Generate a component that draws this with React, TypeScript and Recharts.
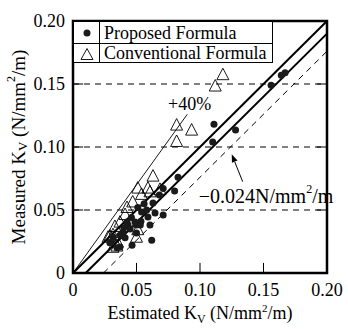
import {
  ScatterChart,
  Scatter,
  XAxis,
  YAxis,
  CartesianGrid,
  ReferenceLine,
  ReferenceArea,
  ReferenceDot,
} from 'recharts';

const FONT = '"Liberation Serif", "Times New Roman", serif';

const xTicks = [0, 0.05, 0.1, 0.15, 0.2];
const yTicks = [0, 0.05, 0.1, 0.15, 0.2];
const innerTicks = [0.05, 0.1, 0.15];

// Proposed formula (filled circles): [estimated, measured]
const proposedX = [
  0.167, 0.164, 0.156, 0.128, 0.111, 0.110, 0.0827, 0.080, 0.071, 0.068,
  0.063, 0.051, 0.054, 0.058, 0.0646, 0.071, 0.059, 0.0535, 0.0488, 0.0425,
  0.0433, 0.050, 0.0606, 0.0394, 0.037, 0.0315, 0.041, 0.050, 0.0465, 0.037,
  0.0346, 0.062, 0.053, 0.045, 0.040, 0.046, 0.056, 0.029,
];
const proposedY = [
  0.159, 0.157, 0.149, 0.1135, 0.118, 0.104, 0.076, 0.065, 0.067, 0.062,
  0.0556, 0.052, 0.0484, 0.050, 0.0476, 0.046, 0.0444, 0.041, 0.0405, 0.0405,
  0.038, 0.038, 0.038, 0.0325, 0.030, 0.0286, 0.028, 0.0317, 0.022, 0.0206,
  0.020, 0.026, 0.038, 0.035, 0.036, 0.044, 0.055, 0.024,
];

// Conventional formula (open triangles)
const conventionalX = [
  0.118, 0.112, 0.0816, 0.0934, 0.0816, 0.063, 0.059, 0.051, 0.0685, 0.0606,
  0.054, 0.047, 0.0425, 0.041, 0.037, 0.033, 0.0315, 0.0276, 0.0346, 0.0315,
  0.050, 0.051, 0.035, 0.029,
];
const conventionalY = [
  0.157, 0.148, 0.117, 0.113, 0.104, 0.0765, 0.067, 0.067, 0.066, 0.064,
  0.062, 0.056, 0.0516, 0.046, 0.040, 0.0365, 0.030, 0.028, 0.021, 0.020,
  0.028, 0.034, 0.024, 0.029,
];

const proposed = proposedX.map((x, i) => ({ x, y: proposedY[i] }));
const conventional = conventionalX.map((x, i) => ({ x, y: conventionalY[i] }));

const TL = 0.008; // inward tick length in data units

const Dot = (p: any) => <circle cx={p.cx} cy={p.cy} r={3.5} fill="#1a1a1a" />;

const Tri = (p: any) => (
  <polygon
    points={`${p.cx},${p.cy - 7} ${p.cx - 6},${p.cy + 4.5} ${p.cx + 6},${p.cy + 4.5}`}
    fill="none"
    stroke="#000"
    strokeWidth={0.9}
  />
);

const fmt = (v: number) => (v === 0 ? '0' : v.toFixed(2));

const XTick = ({ x, y, payload }: any) => (
  <text x={x} y={y + 15} textAnchor="middle" fontFamily={FONT} fontSize={18} fill="#000">
    {fmt(payload.value)}
  </text>
);

const YTick = ({ x, y, payload }: any) => (
  <text x={x} y={y + 6} textAnchor="end" fontFamily={FONT} fontSize={18} fill="#000">
    {fmt(payload.value)}
  </text>
);

const XLabel = ({ viewBox }: any) => (
  <text x={viewBox.x + viewBox.width / 2} y={319} textAnchor="middle" fontFamily={FONT} fontSize={18} fill="#000">
    Estimated K<tspan fontSize={12} dy={4}>V</tspan>
    <tspan dy={-4}> (N/mm</tspan>
    <tspan fontSize={11} dy={-7}>2</tspan>
    <tspan dy={7}>/m)</tspan>
  </text>
);

const YLabel = ({ viewBox }: any) => {
  const cx = 18;
  const cy = viewBox.y + viewBox.height / 2;
  return (
    <text x={cx} y={cy} transform={`rotate(-90 ${cx} ${cy})`} textAnchor="middle" dominantBaseline="central" fontFamily={FONT} fontSize={19} fill="#000">
      Measured K<tspan fontSize={13} dy={4}>V</tspan>
      <tspan dy={-4}> (N/mm</tspan>
      <tspan fontSize={12} dy={-7}>2</tspan>
      <tspan dy={7}>/m)</tspan>
    </text>
  );
};

const Arrow = (p: any) => {
  const { x1, y1, x2, y2 } = p;
  const a = Math.atan2(y2 - y1, x2 - x1);
  const L = 8;
  const w = 3;
  const bx = x2 - L * Math.cos(a);
  const by = y2 - L * Math.sin(a);
  const nx = -Math.sin(a) * w;
  const ny = Math.cos(a) * w;
  return (
    <g>
      <line x1={x1} y1={y1} x2={bx} y2={by} stroke="#000" strokeWidth={1} />
      <polygon points={`${x2},${y2} ${bx + nx},${by + ny} ${bx - nx},${by - ny}`} fill="#000" />
    </g>
  );
};

const Note = (text: any, size: number) => (p: any) => (
  <text x={p.cx} y={p.cy} dominantBaseline="central" textAnchor="start" fontFamily={FONT} fontSize={size} fill="#000">
    {text}
  </text>
);

export default function App() {
  return (
    <div style={{ position: 'absolute', left: 0, top: 0, width: 348, height: 329, background: '#fff' }}>
      <ScatterChart width={348} height={329} margin={{ top: 21, right: 21, bottom: 16, left: 13 }}>
        <CartesianGrid horizontal vertical={false} stroke="#000" strokeDasharray="6 5" strokeWidth={1} />
        <XAxis
          type="number"
          dataKey="x"
          domain={[0, 0.2]}
          ticks={xTicks}
          tick={<XTick />}
          axisLine={false}
          tickLine={false}
          height={40}
          allowDataOverflow
          label={{ content: <XLabel /> }}
        />
        <YAxis
          type="number"
          dataKey="y"
          domain={[0, 0.2]}
          ticks={yTicks}
          tick={<YTick />}
          axisLine={false}
          tickLine={false}
          width={60}
          allowDataOverflow
          label={{ content: <YLabel /> }}
        />
        <ReferenceLine segment={[{ x: 0, y: 0 }, { x: 0.09, y: 0.126 }]} stroke="#000" strokeWidth={0.9} />
        <ReferenceLine segment={[{ x: 0, y: 0 }, { x: 0.2, y: 0.2 }]} stroke="#000" strokeWidth={2} />
        <ReferenceLine segment={[{ x: 0.01, y: 0 }, { x: 0.2, y: 0.19 }]} stroke="#000" strokeWidth={2} />
        <ReferenceLine segment={[{ x: 0.024, y: 0 }, { x: 0.2, y: 0.176 }]} stroke="#000" strokeWidth={1} strokeDasharray="6 5" />
        {innerTicks.map((v) => (
          <ReferenceLine key={'b' + v} segment={[{ x: v, y: 0 }, { x: v, y: TL }]} stroke="#000" strokeWidth={1} />
        ))}
        {innerTicks.map((v) => (
          <ReferenceLine key={'t' + v} segment={[{ x: v, y: 0.2 }, { x: v, y: 0.2 - TL }]} stroke="#000" strokeWidth={1} />
        ))}
        {innerTicks.map((v) => (
          <ReferenceLine key={'l' + v} segment={[{ x: 0, y: v }, { x: TL, y: v }]} stroke="#000" strokeWidth={1} />
        ))}
        {innerTicks.map((v) => (
          <ReferenceLine key={'r' + v} segment={[{ x: 0.2, y: v }, { x: 0.2 - TL, y: v }]} stroke="#000" strokeWidth={1} />
        ))}
        <Scatter data={conventional} shape={<Tri />} isAnimationActive={false} />
        <Scatter data={proposed} shape={<Dot />} isAnimationActive={false} />
        <ReferenceLine segment={[{ x: 0.1336, y: 0.0725 }, { x: 0.125, y: 0.0942 }]} shape={<Arrow />} />
        <ReferenceDot x={0.0748} y={0.134} r={0} shape={Note('+40%', 18)} />
        <ReferenceDot
          x={0.099}
          y={0.0611}
          r={0}
          shape={Note(
            <>
              {'\u22120.024N/mm'}
              <tspan fontSize={12} dy={-7}>2</tspan>
              <tspan dy={7}>/m</tspan>
            </>,
            20,
          )}
        />
        <ReferenceArea x1={0} x2={0.2} y1={0} y2={0.2} fill="none" stroke="#000" strokeWidth={2.5} />
      </ScatterChart>
      <div
        style={{
          position: 'absolute',
          left: 73,
          top: 21,
          width: 200,
          height: 42,
          border: '1px solid #000',
          boxSizing: 'border-box',
          background: '#fff',
          fontFamily: FONT,
          fontSize: 18,
          color: '#000',
        }}
      >
        <div style={{ display: 'flex', height: 21, borderBottom: '1px solid #000', alignItems: 'center' }}>
          <div style={{ width: 25, height: '100%', borderRight: '1px solid #000', display: 'flex', alignItems: 'center', justifyContent: 'center' }}>
            <svg width={10} height={10}>
              <circle cx={5} cy={5} r={3.5} fill="#1a1a1a" />
            </svg>
          </div>
          <div style={{ paddingLeft: 4, lineHeight: '20px' }}>Proposed Formula</div>
        </div>
        <div style={{ display: 'flex', height: 19, alignItems: 'center' }}>
          <div style={{ width: 25, height: '100%', borderRight: '1px solid #000', display: 'flex', alignItems: 'center', justifyContent: 'center' }}>
            <svg width={14} height={14}>
              <polygon points="7,1.5 1,12.5 13,12.5" fill="none" stroke="#000" strokeWidth={0.9} />
            </svg>
          </div>
          <div style={{ paddingLeft: 4, lineHeight: '19px' }}>Conventional Formula</div>
        </div>
      </div>
    </div>
  );
}
